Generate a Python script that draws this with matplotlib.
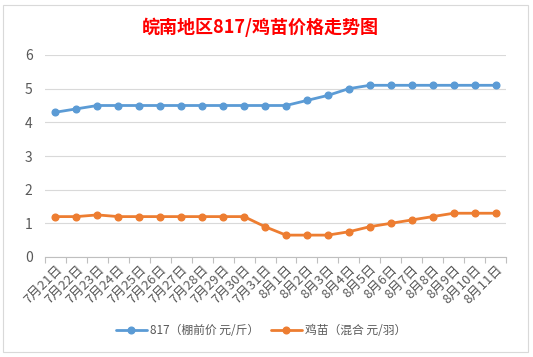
import matplotlib
matplotlib.use("Agg")
import matplotlib.pyplot as plt
from matplotlib.patches import Rectangle

plt.rcParams['font.family'] = ['Noto Sans CJK SC', 'DejaVu Sans']

dates = ["7月21日", "7月22日", "7月23日", "7月24日", "7月25日", "7月26日", "7月27日",
         "7月28日", "7月29日", "7月30日", "7月31日", "8月1日", "8月2日", "8月3日",
         "8月4日", "8月5日", "8月6日", "8月7日", "8月8日", "8月9日", "8月10日", "8月11日"]
price_817 = [4.3, 4.4, 4.5, 4.5, 4.5, 4.5, 4.5, 4.5, 4.5, 4.5, 4.5, 4.5,
             4.65, 4.8, 5.0, 5.1, 5.1, 5.1, 5.1, 5.1, 5.1, 5.1]
price_chick = [1.2, 1.2, 1.25, 1.2, 1.2, 1.2, 1.2, 1.2, 1.2, 1.2, 0.9, 0.65,
               0.65, 0.65, 0.75, 0.9, 1.0, 1.1, 1.2, 1.3, 1.3, 1.3]
label_817 = "817（棚前价 元/斤）"
label_chick = "鸡苗（混合 元/羽）"
title = "皖南地区817/鸡苗价格走势图"

W, H = 533, 357
fig = plt.figure(figsize=(W / 100, H / 100), dpi=100)
fig.patch.set_facecolor('white')

# chart area border
fig.patches.append(Rectangle((3 / W, 5 / H), (528 - 3) / W, (352 - 5) / H,
                             transform=fig.transFigure, fill=False,
                             edgecolor='#D9D9D9', linewidth=0.8))

ax = fig.add_axes([45 / W, (H - 257) / H, (506 - 45) / W, (257 - 55) / H])
x = list(range(len(dates)))
ax.plot(x, price_817, color='#5B9BD5', linewidth=2.0, marker='o', markersize=4.8,
        label=label_817, solid_capstyle='round')
ax.plot(x, price_chick, color='#ED7D31', linewidth=2.0, marker='o', markersize=4.8,
        label=label_chick, solid_capstyle='round')

ax.set_xlim(-0.5, len(dates) - 0.5)
ax.set_ylim(0, 6)
ax.set_yticks([0, 1, 2, 3, 4, 5, 6])
ax.yaxis.grid(True, color='#D9D9D9', linewidth=0.8)
ax.set_axisbelow(True)
for s in ['left', 'right', 'top']:
    ax.spines[s].set_visible(False)
ax.spines['bottom'].set_color('#BFBFBF')
ax.spines['bottom'].set_linewidth(0.8)

ax.tick_params(axis='y', length=0, labelsize=10, labelcolor='#595959', pad=9)
ax.set_xticks(x)
ax.set_xticklabels(dates, rotation=45, ha='right', va='top', rotation_mode='anchor',
                   fontsize=9.5, color='#595959')
ax.tick_params(axis='x', length=0, pad=4)
ax.set_xticks([i - 0.5 for i in range(len(dates) + 1)], minor=True)
ax.tick_params(axis='x', which='minor', length=4, color='#BFBFBF', width=0.8)

fig.text(0.488, (H - 27) / H, title, color='#FF0000', fontsize=13, fontweight='bold',
         ha='center', va='center')

leg = fig.legend(loc='center', bbox_to_anchor=(0.49, (H - 331) / H), ncol=2,
                 frameon=False, fontsize=8.5, handlelength=2.6, columnspacing=1.0,
                 handletextpad=0.3)
for t in leg.get_texts():
    t.set_color('#595959')

fig.savefig('out.png', dpi=100, facecolor='white')
